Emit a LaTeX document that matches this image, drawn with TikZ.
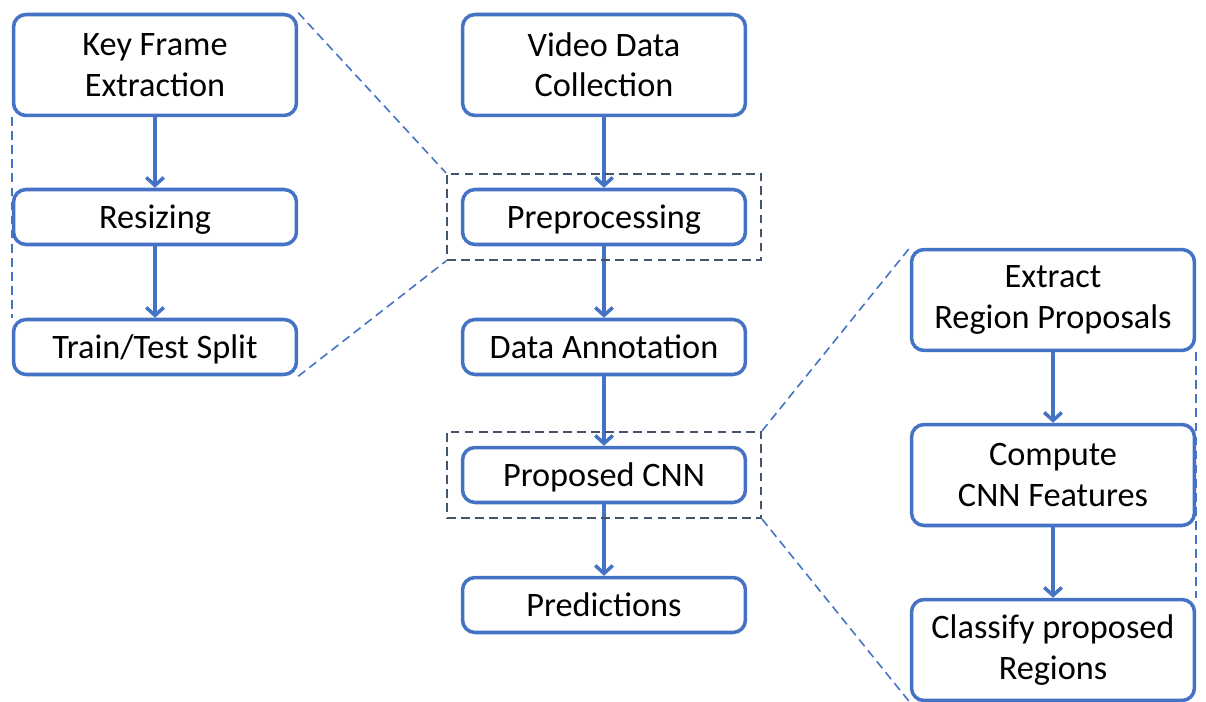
\documentclass[tikz,border=0pt]{standalone}
\usepackage{fontspec}
\setmainfont{Carlito}
\usetikzlibrary{arrows.meta,fit}
\definecolor{boxblue}{HTML}{4472C4}
\definecolor{zoomgray}{HTML}{44546A}

\begin{document}
\begin{tikzpicture}[x=0.02cm,y=-0.02cm,
   stage/.style={draw=boxblue,line width=2pt,rounded corners=0.25cm,fill=white,
     minimum width=5.66cm,align=center,font=\fontsize{19.5}{23}\selectfont},
   tall/.style={stage,minimum height=2.02cm},
   flat/.style={stage,minimum height=1.1cm,text height=17.5pt,text depth=4pt},
   flow/.style={draw=boxblue,line width=2pt,-{Straight Barb[length=4.5pt,width=10pt]}},
   zoombox/.style={draw=zoomgray,dash pattern=on 5pt off 3pt,line width=0.9pt,inner sep=0.28cm},
   zoomline/.style={draw=boxblue,dash pattern=on 5pt off 3pt,line width=0.9pt}]
   \useasboundingbox (0,0) rectangle (1206,702);
   \begin{scope}
    \node[tall] (keyframe) at (155,65) {Key Frame\\Extraction};
    \node[flat] (resize)   at (155,217) {Resizing};
    \node[flat] (split)    at (155,347) {Train/Test Split};
    \draw[flow] (keyframe) -- (resize);
    \draw[flow] (resize) -- (split);
   \end{scope}
   \begin{scope}
    \node[tall] (video)    at (604,65) {Video Data\\Collection};
    \node[flat] (preproc)  at (604,217) {Preprocessing};
    \node[flat] (annot)    at (604,347) {Data Annotation};
    \node[flat] (cnn)      at (604,475) {Proposed CNN};
    \node[flat] (predict)  at (604,605) {Predictions};
    \draw[flow] (video) -- (preproc);
    \draw[flow] (preproc) -- (annot);
    \draw[flow] (annot) -- (cnn);
    \draw[flow] (cnn) -- (predict);
    \node[zoombox,fit=(preproc)] (preprocwin) {};
    \node[zoombox,fit=(cnn)] (cnnwin) {};
   \end{scope}
   \begin{scope}
    \node[tall] (extract)  at (1053,300) {Extract\\Region Proposals};
    \node[tall] (features) at (1053,475) {Compute\\CNN Features};
    \node[tall] (classify) at (1053,650) {Classify proposed\\Regions};
    \draw[flow] (extract) -- (features);
    \draw[flow] (features) -- (classify);
   \end{scope}
   \draw[zoomline] (keyframe.north east) -- (preprocwin.north west);
   \draw[zoomline] (split.south east) -- (preprocwin.south west);
   \draw[zoomline] (keyframe.south west) -- (split.north west);
   \draw[zoomline] (cnnwin.north east) -- (extract.north west);
   \draw[zoomline] (cnnwin.south east) -- (classify.south west);
   \draw[zoomline] (extract.south east) -- (classify.north east);
  \end{tikzpicture}
\end{document}
